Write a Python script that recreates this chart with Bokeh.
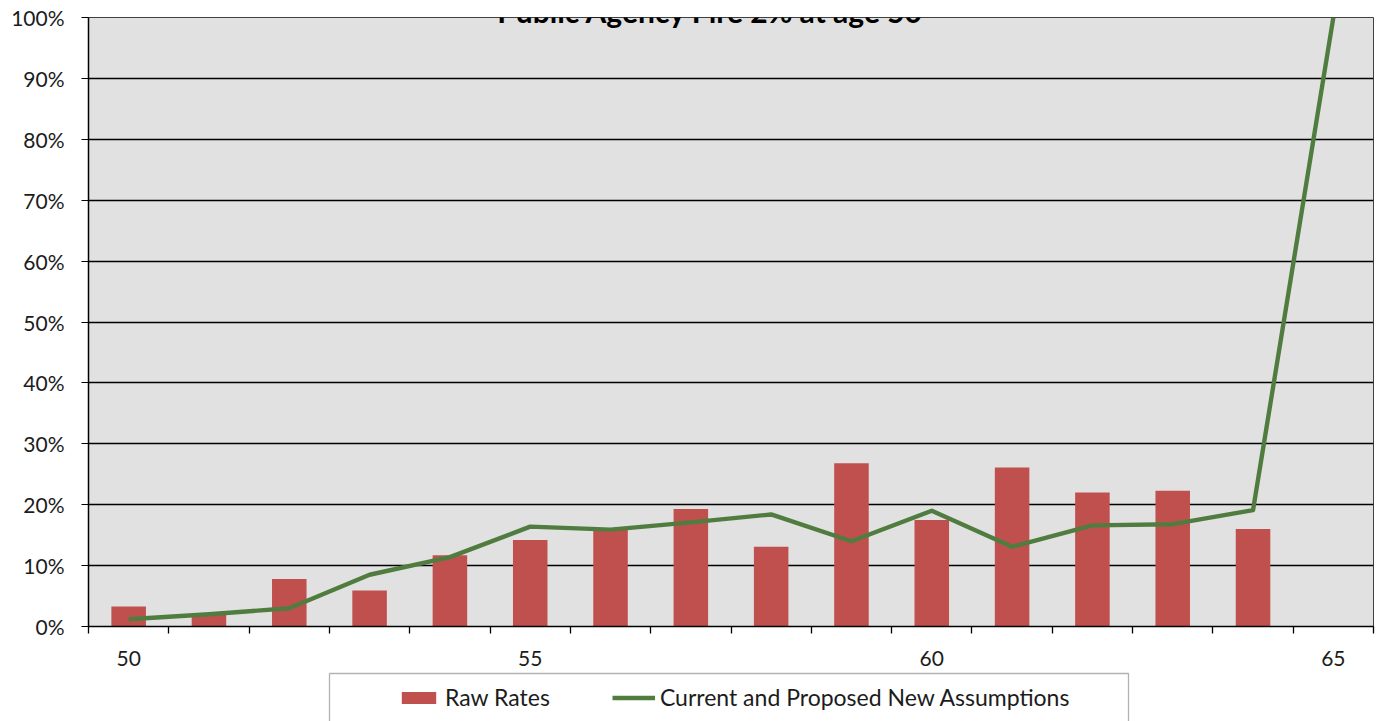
from bokeh.plotting import figure
from bokeh.layouts import column
from bokeh.models import (ColumnDataSource, FixedTicker, NumeralTickFormatter,
                          Label, Legend, LegendItem, BoxAnnotation, Range1d)
from bokeh.embed import file_html
from bokeh.resources import INLINE

# Ages on the x axis
ages = list(range(50, 66))
# Observed retirement rates (no observation at age 65)
raw_ages = ages[:15]
raw_rates = [0.033, 0.021, 0.078, 0.059, 0.117, 0.142, 0.159, 0.193,
             0.131, 0.268, 0.175, 0.261, 0.220, 0.223, 0.160]
# Assumed rates
assumed_rates = [0.012, 0.020, 0.030, 0.085, 0.114, 0.164, 0.159, 0.171,
                 0.184, 0.140, 0.190, 0.131, 0.166, 0.168, 0.191, 1.000]
x_labels = [50, 55, 60, 65]
y_ticks = [0.0, 0.1, 0.2, 0.3, 0.4, 0.5, 0.6, 0.7, 0.8, 0.9, 1.0]

FONT = "Lato"
TEXT = "#1c1c1c"
BAR_COLOR = "#C0504D"
LINE_COLOR = "#507D3F"

W = 1380
H1 = 668            # chart
H2 = 721 - H1       # legend strip
LEFT, RIGHT, TOP = 88, 7, 17
FRAME_BOTTOM = 626

p = figure(width=W, height=H1, output_backend="svg", toolbar_location=None,
           x_range=Range1d(ages[0] - 0.5, ages[-1] + 0.5),
           y_range=Range1d(0, 1),
           min_border_left=LEFT, min_border_right=RIGHT,
           min_border_top=TOP, min_border_bottom=H1 - FRAME_BOTTOM)

p.background_fill_color = "#E1E1E1"
p.border_fill_color = "white"
p.outline_line_color = "#404040"
p.outline_line_width = 1

bar_src = ColumnDataSource(dict(age=raw_ages, rate=raw_rates))
line_src = ColumnDataSource(dict(age=ages, rate=assumed_rates))

bars = p.vbar(x="age", top="rate", width=0.43, bottom=0, source=bar_src,
              fill_color=BAR_COLOR, line_color=None)
line = p.line(x="age", y="rate", source=line_src, line_color=LINE_COLOR,
              line_width=4.4, line_join="round")

# grid
p.xgrid.grid_line_color = None
p.ygrid.ticker = FixedTicker(ticks=y_ticks)
p.ygrid.grid_line_color = "black"
p.ygrid.grid_line_width = 1.3

# y axis
p.yaxis.ticker = FixedTicker(ticks=y_ticks)
p.yaxis.formatter = NumeralTickFormatter(format="0%")
p.yaxis.major_label_text_font = FONT
p.yaxis.major_label_text_font_size = "21px"
p.yaxis.major_label_text_color = TEXT
p.yaxis.major_tick_out = 7
p.yaxis.major_tick_in = 0
p.yaxis.minor_tick_line_color = None
p.yaxis.major_tick_line_color = "black"
p.yaxis.axis_line_color = "black"
p.yaxis.axis_line_width = 1.5
p.yaxis.major_label_standoff = 17

# x axis: labels every five years, tick marks between categories
boundaries = [a - 0.5 for a in ages] + [ages[-1] + 0.5]
p.xaxis.ticker = FixedTicker(ticks=x_labels, minor_ticks=boundaries)
p.xaxis.major_label_text_font = FONT
p.xaxis.major_label_text_font_size = "21px"
p.xaxis.major_label_text_color = TEXT
p.xaxis.major_tick_out = 0
p.xaxis.major_tick_in = 0
p.xaxis.minor_tick_out = 7
p.xaxis.minor_tick_in = 0
p.xaxis.minor_tick_line_color = "black"
p.xaxis.minor_tick_line_width = 1.3
p.xaxis.axis_line_color = "black"
p.xaxis.axis_line_width = 1.5
p.xaxis.major_label_standoff = 17

# title, partly above the top edge of the page
title = Label(x=710 - LEFT, y=FRAME_BOTTOM - 10, x_units="screen", y_units="screen",
              text="Public Agency Fire 2% at age 50", text_font=FONT,
              text_font_style="bold", text_font_size="30px",
              text_align="center", text_baseline="alphabetic",
              text_color="black")
p.add_layout(title)

# legend strip: same horizontal borders as the chart, data units equal
# page pixels (x to the right, -y downwards)
BOX_L, BOX_R, BOX_T = 329, 1128, 673
leg = figure(width=W, height=H2, output_backend="svg", toolbar_location=None,
             x_range=Range1d(LEFT, W - RIGHT), y_range=Range1d(-721, -H1),
             min_border_left=LEFT, min_border_right=RIGHT,
             min_border_top=0, min_border_bottom=0)
leg.axis.visible = False
leg.grid.visible = False
leg.outline_line_color = None
leg.background_fill_color = "white"
leg.border_fill_color = "white"

box = BoxAnnotation(left=BOX_L, right=BOX_R, top=-BOX_T, bottom=-760,
                    fill_alpha=0, line_color="black", line_width=1.3)
leg.add_layout(box)

# swatches carrying the same styles as the chart's marks (kept off-view)
bar_key = leg.vbar(x=[-500], top=[-900], bottom=[-950], width=1,
                   fill_color=BAR_COLOR, line_color=None)
line_key = leg.line(x=[-500, -499], y=[-900, -900], line_color=LINE_COLOR,
                    line_width=4.4)

legend = Legend(items=[LegendItem(label="Raw Rates", renderers=[bar_key]),
                       LegendItem(label="Current and Proposed New Assumptions",
                                  renderers=[line_key])],
                orientation="horizontal", location=(397 - LEFT, 721 - 711),
                padding=0, spacing=62, margin=0,
                glyph_width=43, glyph_height=15, label_standoff=5,
                label_height=20,
                label_text_font=FONT, label_text_font_size="23px",
                label_text_color=TEXT,
                border_line_alpha=0, background_fill_alpha=0)
leg.add_layout(legend, "center")

layout = column(p, leg, spacing=0)
open("out.html", "w").write(file_html(layout, INLINE))
